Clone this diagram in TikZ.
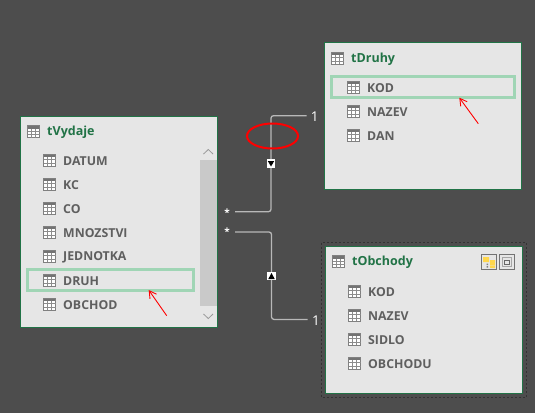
\documentclass[tikz,border=0pt]{standalone}
\usepackage{fontspec}
\setmainfont{Open Sans}
\usetikzlibrary{arrows.meta,shapes.geometric}
\definecolor{bg}{HTML}{4D4D4D}
\definecolor{panel}{HTML}{E6E6E6}
\definecolor{xlgreen}{HTML}{217346}
\definecolor{hilite}{HTML}{A0D5B5}
\definecolor{fieldtxt}{HTML}{5F5F5F}
\definecolor{relline}{HTML}{B8B8B8}
\tikzset{
  table/.style={draw=xlgreen,line width=0.9pt,fill=panel,inner sep=0pt,outer sep=0pt,anchor=north west},
  title/.style={anchor=west,inner sep=0pt,text=xlgreen,font=\fontsize{12.5}{15}\selectfont\bfseries},
  field/.style={anchor=west,inner sep=0pt,text=fieldtxt,font=\fontsize{12.3}{14}\selectfont\bfseries},
  hibox/.style={draw=hilite,line width=3pt,outer sep=0pt},
  relation/.style={draw=relline,line width=1.3pt,rounded corners=2.5pt},
  endmark/.style={inner sep=0pt,outer sep=0pt,minimum width=16pt,minimum height=10pt,text=white},
  manyend/.style={endmark,font=\fontsize{10}{10}\selectfont\bfseries},
  oneend/.style={endmark,font=\fontsize{13.5}{13.5}\selectfont},
  dirbox/.style={fill=white,inner sep=0pt,minimum size=8.5pt},
  redarrow/.style={draw=red,line width=0.9pt,-{Straight Barb[length=7pt,width=8pt]}},
  tblicon/.pic={
    \fill[white] (-6,-6) rectangle (6,6);
    \fill[black!55] (-6,-6) rectangle (6,-3);
    \draw[black!50,line width=0.8pt] (-6,-6) rectangle (6,6);
    \draw[black!45,line width=0.7pt] (-6,-0.5) -- (6,-0.5) (-6,2.8) -- (6,2.8) (-2,-3) -- (-2,6) (2,-3) -- (2,6);
  },
  chev/.style={draw=black!40,line width=0.8pt}
}
\begin{document}
\begin{tikzpicture}[x=1pt,y=-1pt]
\useasboundingbox (0,0) rectangle (535,413);
\fill[bg] (0,0) rectangle (535,413);
% tables
\node[table,minimum width=196.3pt,minimum height=211pt] (tv) at (20.7,116) {};
\node[table,minimum width=196.7pt,minimum height=146.5pt] (td) at (324.4,42.7) {};
\draw[black!80,line width=1pt,dash pattern=on 2pt off 2pt] (321.7,242.7) rectangle (526.7,397.3);
\node[table,minimum width=196.6pt,minimum height=146.3pt] (to) at (325.7,246.7) {};
% scrollbar
\fill[black!21] (200,160) rectangle (216.5,306);
\draw[chev] (203.5,154) -- (208.3,149.5) -- (213,154);
\draw[chev] (203.5,314) -- (208.3,318.5) -- (213,314);
% highlights
\node[hibox,minimum width=166pt,minimum height=20.5pt,inner sep=0pt] (h1) at (110.5,280) {};
\node[hibox,minimum width=183pt,minimum height=21pt,inner sep=0pt] (h2) at (423,87) {};
% titles
\pic at (33.5,131.7) {tblicon};
\node[title] (tvt) at (47,132.3) {tVydaje};
\pic at (337.5,58.3) {tblicon};
\node[title] (tdt) at (351,59) {tDruhy};
\pic at (338.5,261.7) {tblicon};
\node[title] (tot) at (352,262.3) {tObchody};
% fields
\foreach \i/\t in {0/DATUM,1/KC,2/CO,3/MNOZSTVI,4/JEDNOTKA,5/DRUH,6/OBCHOD}{
  \pic at (49.5,160.3+24*\i) {tblicon};
  \node[field,name=v\i] at (63,161+24*\i) {\t};
}
\foreach \i/\t in {0/KOD,1/NAZEV,2/DAN}{
  \pic at (353.5,87.3+24*\i) {tblicon};
  \node[field,name=d\i] at (367,88+24*\i) {\t};
}
\foreach \i/\t in {0/KOD,1/NAZEV,2/SIDLO,3/OBCHODU}{
  \pic at (354.5,291.3+24*\i) {tblicon};
  \node[field,name=o\i] at (368,292+24*\i) {\t};
}
% header buttons
\node[draw=black!55,line width=1pt,fill=panel,minimum size=15pt,inner sep=0pt] (b1) at (489,262) {};
\fill[orange!45!yellow!70!white] (483,257) rectangle (489,262) (490,260) rectangle (495,265) (490,265.5) rectangle (495,268);
\fill[black!50] (486.5,263.5) rectangle (488,265) (486.5,266) rectangle (488,267.5);
\node[draw=black!55,line width=1pt,fill=panel,minimum size=15pt,inner sep=0pt] (b2) at (507,262) {};
\draw[black!35,line width=1.2pt] (502.5,257.5) rectangle (511.5,266.5);
\draw[black!60,line width=0.8pt] (504.5,260) rectangle (509.5,264);
% relationship ends
\node[manyend] (s1) at (227,212.5) {*};
\node[manyend] (s2) at (227,232) {*};
\node[oneend] (e1) at (314.7,116.7) {1};
\node[oneend] (e2) at (316,320.5) {1};
\coordinate (m1) at (271,163.5);
\coordinate (m2) at (271.5,276);
\coordinate (t1) at (306.7,115.7);
\coordinate (t2) at (307.6,319.4);
\draw[relation] (s1.east |- 0,211.7) -| (m1) |- (t1);
\draw[relation] (s2.east) -| (m2) |- (t2);
\node[dirbox] (k1) at (m1) {};
\node[dirbox] (k2) at (m2) {};
\fill[black] (267.8,161) -- (274.2,161) -- (271,166.5) -- cycle;
\fill[black] (268.3,279) -- (274.7,279) -- (271.5,273) -- cycle;
% annotations
\node[ellipse,draw=red,line width=2pt,minimum width=51pt,minimum height=25pt,inner sep=0pt] (ring) at (272.5,136) {};
\coordinate (a1s) at (166.7,315.7);
\coordinate (a1e) at (148.7,290);
\coordinate (a2s) at (478.3,123.7);
\coordinate (a2e) at (459.3,97.7);
\draw[redarrow] (a1s) -- (a1e);
\draw[redarrow] (a2s) -- (a2e);
\end{tikzpicture}
\end{document}
